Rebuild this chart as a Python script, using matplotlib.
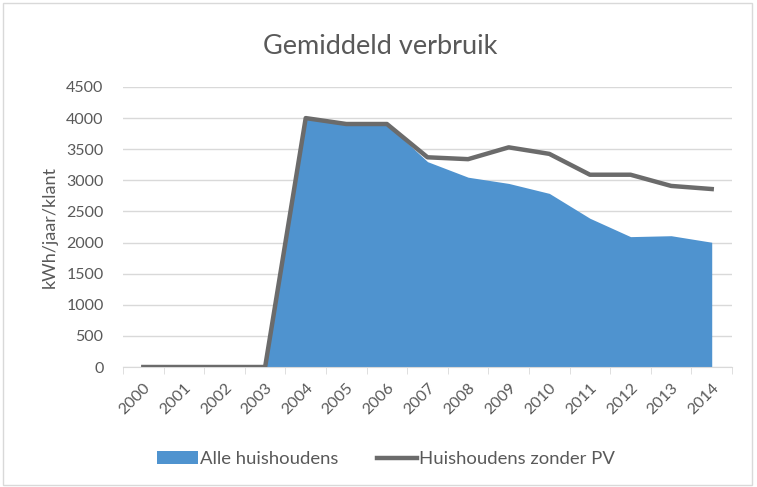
import matplotlib
matplotlib.use('Agg')
import matplotlib.pyplot as plt
import numpy as np
from matplotlib.patches import Patch, Rectangle
from matplotlib.lines import Line2D

years = ['2000', '2001', '2002', '2003', '2004', '2005', '2006', '2007',
         '2008', '2009', '2010', '2011', '2012', '2013', '2014']
alle = [0, 0, 0, 0, 4000, 3905, 3905, 3300, 3050, 2950, 2790, 2390, 2095, 2110, 2005]
zonder_pv = [0, 0, 0, 0, 4000, 3905, 3905, 3370, 3340, 3530, 3425, 3090, 3090, 2910, 2860]

txt = '#595959'
plt.rcParams['font.family'] = ['Lato', 'DejaVu Sans']

fig = plt.figure(figsize=(7.57, 4.87), dpi=100)
ax = fig.add_axes([0.1625, 0.2464, 0.8045, 0.575])

x = np.arange(len(years))
ax.fill_between(x, alle, 0, color='#4F93CF', linewidth=0, zorder=2)
ax.plot(x, zonder_pv, color='#6B6B6B', linewidth=3.2, solid_joinstyle='round', zorder=3)

ax.set_xlim(-0.5, len(years) - 0.5)
ax.set_ylim(0, 4500)
ax.set_yticks(np.arange(0, 4501, 500))
ax.yaxis.grid(True, color='#D9D9D9', linewidth=1)
ax.set_axisbelow(True)
ax.tick_params(axis='y', length=0, labelsize=11.5, labelcolor=txt, pad=14)

ax.set_xticks(x)
ax.set_xticklabels(years, rotation=45, ha='right', rotation_mode='anchor')
ax.set_xticks(np.arange(-0.5, len(years), 1), minor=True)
ax.tick_params(axis='x', which='major', length=0, labelsize=11.5, labelcolor=txt, pad=10)
ax.tick_params(axis='x', which='minor', length=5, color='#D9D9D9')

for s in ['top', 'right', 'left']:
    ax.spines[s].set_visible(False)
ax.spines['bottom'].set_color('#D9D9D9')

ax.set_ylabel('kWh/jaar/klant', fontsize=13, color=txt, labelpad=6)
fig.text(0.502, 0.905, 'Gemiddeld verbruik', ha='center', va='center',
         fontsize=19.5, color=txt)

handles = [Patch(facecolor='#4F93CF', edgecolor='none'),
           Line2D([0], [0], color='#6B6B6B', linewidth=3.2)]
fig.legend(handles, ['Alle huishoudens', 'Huishoudens zonder PV'],
           loc='center', bbox_to_anchor=(0.51, 0.057), ncol=2, frameon=False,
           fontsize=13.3, labelcolor=txt, handlelength=2.2, handletextpad=0.1,
           columnspacing=2.1)

fig.patches.append(Rectangle((0.004, 0.004), 0.99, 0.99, transform=fig.transFigure,
                             fill=False, edgecolor='#D9D9D9', linewidth=1))

fig.savefig('out.png', dpi=100)
